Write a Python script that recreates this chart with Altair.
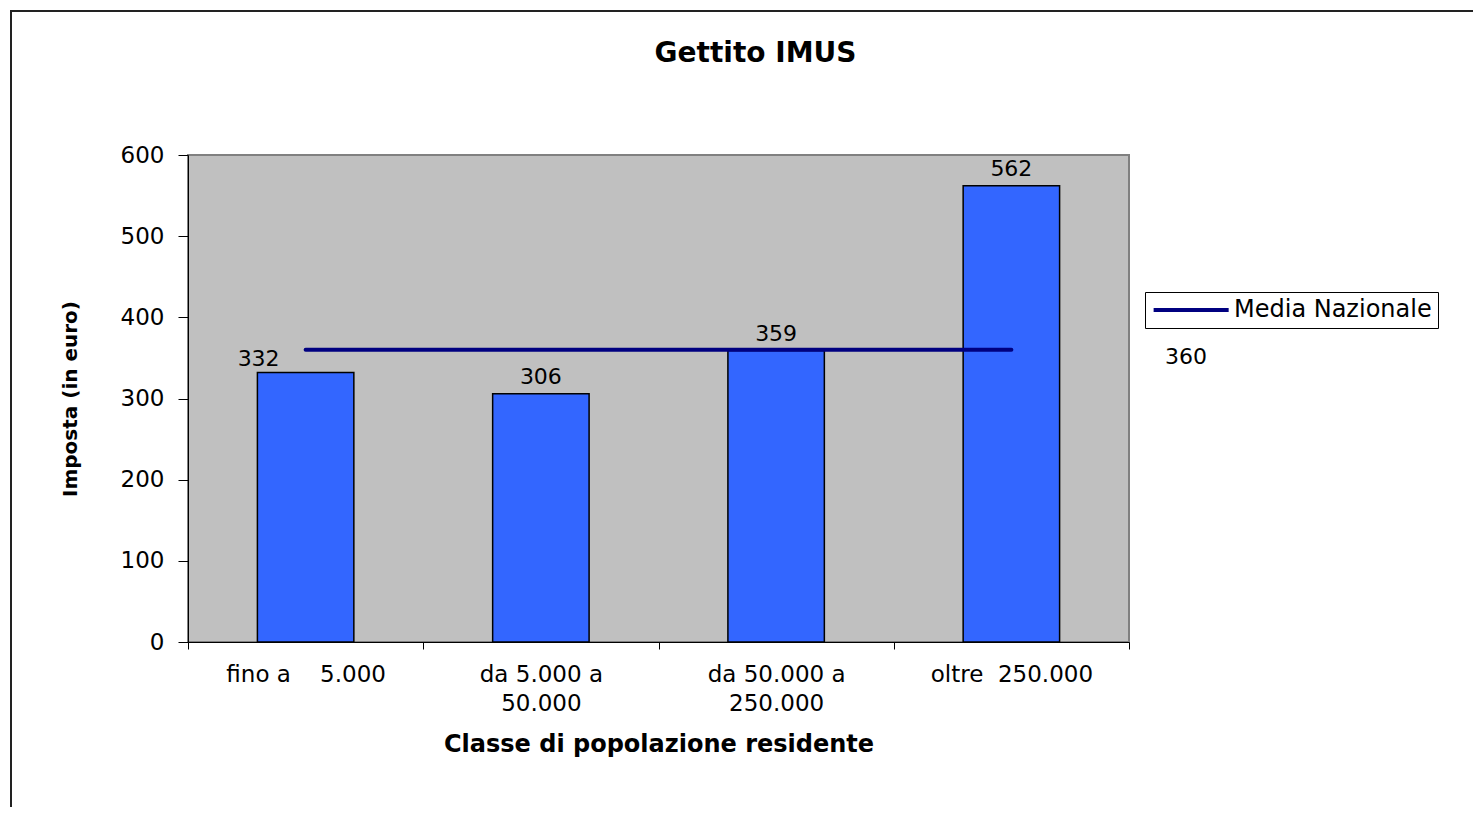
import altair as alt
import pandas as pd

# ---- data ----
categories = [
    "fino a\u00a0\u00a0\u00a0\u00a05.000",
    "da 5.000 a\n50.000",
    "da 50.000 a\n250.000",
    "oltre\u00a0\u00a0250.000",
]
imposta = [332, 306, 359, 562]
media_nazionale = 360
series_name = "Media Nazionale"

FONT = "DejaVu Sans"

bars_df = pd.DataFrame({"classe": categories, "imposta": imposta})
line_df = pd.DataFrame({
    "classe": categories,
    "media": [media_nazionale] * len(categories),
    "serie": [series_name] * len(categories),
})
media_df = pd.DataFrame({"media": [media_nazionale]})
frame_df = pd.DataFrame({"k": [0]})

x_enc = alt.X(
    "classe:N",
    sort=categories,
    scale=alt.Scale(paddingInner=0, paddingOuter=0),
    axis=alt.Axis(
        title="Classe di popolazione residente",
        titleFontSize=24,
        titleFontWeight="bold",
        titlePadding=17,
        labelAngle=0,
        labelFontSize=23,
        labelPadding=14,
        labelLineHeight=29,
        labelExpr="split(datum.label, '\\n')",
        labelColor="black",
        tickBand="extent",
        tickSize=7,
        tickColor="black",
        domainColor="black",
        labelLimit=300,
    ),
)

y_enc = alt.Y(
    "imposta:Q",
    scale=alt.Scale(domain=[0, 600], nice=False),
    axis=alt.Axis(
        title="Imposta (in euro)",
        titleFontSize=20,
        titleFontWeight="bold",
        titlePadding=40,
        values=[0, 100, 200, 300, 400, 500, 600],
        labelFontSize=23,
        labelPadding=14,
        labelColor="black",
        tickSize=10,
        tickColor="black",
        domainColor="black",
        grid=False,
    ),
)

bars = alt.Chart(bars_df).mark_bar(
    width=alt.RelativeBandSize(0.41),
    color="#3366FF",
    stroke="black",
    strokeWidth=1.5,
).encode(x=x_enc, y=y_enc)

labels_main = alt.Chart(bars_df).transform_filter(
    alt.datum.imposta != imposta[0]
).mark_text(fontSize=22, baseline="alphabetic", dy=-10, color="black").encode(
    x=alt.X("classe:N", sort=categories),
    y="imposta:Q",
    text="imposta:Q",
)

labels_first = alt.Chart(bars_df).transform_filter(
    alt.datum.imposta == imposta[0]
).mark_text(fontSize=22, baseline="alphabetic", dy=-7, dx=-47, color="black").encode(
    x=alt.X("classe:N", sort=categories),
    y="imposta:Q",
    text="imposta:Q",
)

line = alt.Chart(line_df).mark_line(strokeWidth=4, strokeCap="round").encode(
    x=alt.X("classe:N", sort=categories),
    y=alt.Y("media:Q"),
    color=alt.Color(
        "serie:N",
        scale=alt.Scale(domain=[series_name], range=["#000080"]),
        legend=alt.Legend(
            title=None,
            orient="none",
            legendX=957,
            legendY=137,
            symbolType="M-1,0H7",
            symbolSize=352,
            symbolStrokeWidth=4,
            labelFontSize=24,
            labelColor="black",
            labelOffset=59,
            labelLimit=400,
            padding=6,
            strokeColor="black",
            fillColor="white",
            cornerRadius=0,
        ),
    ),
)

media_label = alt.Chart(media_df).mark_text(
    fontSize=22, align="center", baseline="middle", color="black"
).encode(
    x=alt.value(998),
    y=alt.value(202),
    text="media:Q",
)

frame = alt.Chart(frame_df).mark_rect(
    fill="transparent", stroke="#222222", strokeWidth=2
).encode(
    x=alt.value(-177), x2=alt.value(1500),
    y=alt.value(-144), y2=alt.value(800),
)

chart = alt.layer(frame, bars, line, labels_main, labels_first, media_label).properties(
    width=941,
    height=487,
    autosize=alt.AutoSizeParams(type="none"),
    padding={"left": 180, "top": 147, "right": 344, "bottom": 165},
    title=alt.TitleParams(
        text="Gettito IMUS",
        fontSize=28,
        fontWeight="bold",
        anchor="middle",
        baseline="alphabetic",
        dx=97,
        offset=-80,
        color="black",
    ),
).configure(
    font=FONT,
).configure_view(
    fill="#C0C0C0",
    stroke="#808080",
    strokeWidth=2,
)

chart.save("out.html", embed_options={"renderer": "svg", "actions": False})
